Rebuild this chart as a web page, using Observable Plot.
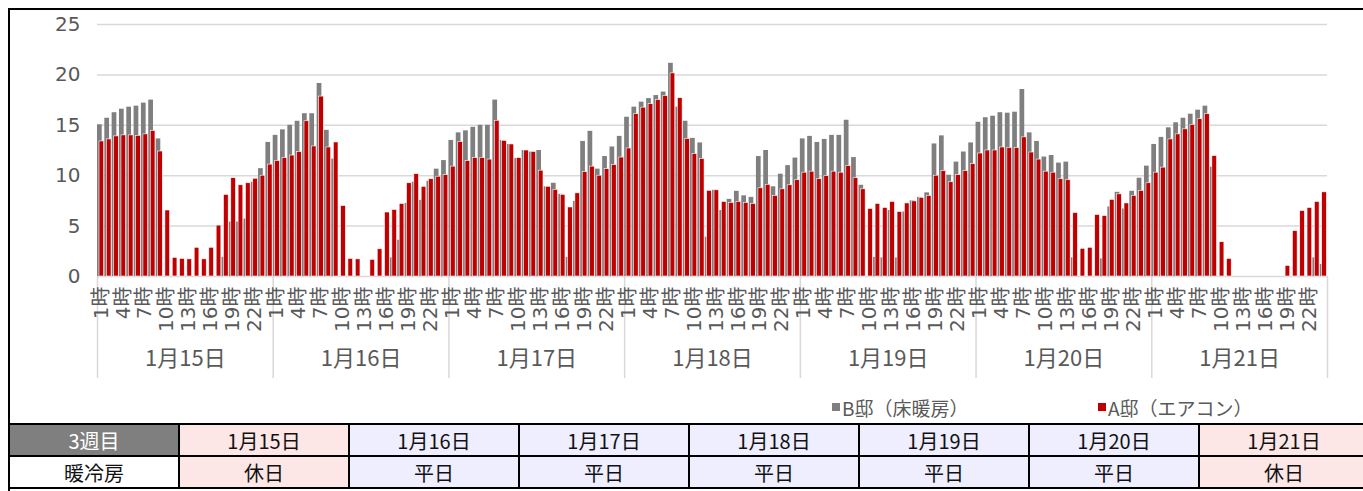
<!DOCTYPE html>
<html>
<head>
<meta charset="utf-8">
<script src="https://cdn.jsdelivr.net/npm/d3@7"></script>
<script src="https://cdn.jsdelivr.net/npm/@observablehq/plot@0.6"></script>
<style>
  html, body { margin: 0; padding: 0; background: #fff; overflow: hidden; }
  body { width: 1363px; height: 491px; position: relative; font-family: "Noto Sans CJK JP", sans-serif; }
  #frame { position: absolute; left: 8px; top: 8px; width: 1400px; height: 500px;
           border-left: 2px solid #000; border-top: 2px solid #000; box-sizing: border-box; }
  #chart { position: absolute; left: 0; top: 0; }
  #legend { position: absolute; top: 394px; left: 0; width: 1363px; height: 26px; font-size: 19px; color: #595959; }
  .li { position: absolute; top: 0; display: flex; align-items: center; height: 26px; white-space: nowrap; }
  .sw { display: inline-block; width: 8px; height: 8px; margin-right: 2px; }
  table { position: absolute; left: 8px; top: 423px; border-collapse: collapse; table-layout: fixed; width: 1362px; }
  td { border: 2px solid #000; height: 30px; padding: 0; text-align: center; font-size: 20px; color: #111; }
  td.head { background: #7f7f7f; color: #fff; }
  td.hol { background: #fde6e6; }
  td.wk { background: #eeeeff; }
  td.plain { background: #fff; }
</style>
</head>
<body>
<div id="frame"></div>
<div id="chart"></div>
<div id="legend"></div>
<script>
// ---- data ----
const days = ["1月15日", "1月16日", "1月17日", "1月18日", "1月19日", "1月20日", "1月21日"];
const dayTypes = ["休日", "平日", "平日", "平日", "平日", "平日", "休日"];
const hourLabels = ["1時", "4時", "7時", "10時", "13時", "16時", "19時", "22時"];
const seriesNames = ["B邸（床暖房）", "A邸（エアコン）"];
const seriesColors = ["#7f7f7f", "#c00000"];
const weekLabel = "3週目";
const rowLabel = "暖冷房";

// B邸（床暖房） hourly values, one line per day (1時..24時)
const bValues = [
  15.05, 15.7, 16.25, 16.6, 16.8, 16.9, 17.2, 17.5, 13.65, 0, 0, 0, 0, 0, 0, 0, 0, 1.9, 5.4, 5.4, 5.7, 9.35, 10.7, 13.3,
  14.0, 14.55, 15.0, 15.4, 16.15, 16.15, 19.15, 14.5, 11.65, 0, 0, 0, 0, 0, 0, 0, 1.85, 3.6, 7.25, 9.35, 7.55, 9.45, 10.65, 11.5,
  13.5, 14.25, 14.45, 14.8, 15.0, 15.0, 17.5, 13.5, 13.1, 11.7, 12.5, 12.35, 12.5, 8.9, 9.25, 8.15, 1.9, 7.45, 13.4, 14.4, 10.65, 11.9, 12.85, 13.9,
  15.8, 16.8, 17.3, 17.65, 17.95, 18.3, 21.15, 16.8, 15.4, 13.7, 13.25, 3.9, 8.55, 6.55, 7.65, 8.45, 8.0, 7.85, 11.9, 12.5, 8.9, 10.15, 11.0, 11.75,
  13.65, 13.9, 13.3, 13.6, 14.0, 14.0, 15.5, 11.8, 9.05, 0, 1.9, 1.85, 6.55, 1.85, 6.4, 7.5, 7.85, 8.3, 13.15, 13.95, 10.05, 11.35, 12.35, 13.25,
  15.3, 15.75, 15.9, 16.25, 16.2, 16.3, 18.55, 14.25, 13.4, 11.85, 12.0, 11.25, 11.35, 1.85, 0, 0, 0, 1.75, 6.9, 8.35, 6.7, 8.45, 9.75, 10.95,
  13.1, 13.8, 14.75, 15.25, 15.7, 16.1, 16.5, 16.9, 10.85, 0, 0, 0, 0, 0, 0, 0, 0, 0, 0, 0, 0, 0, 1.85, 1.2
];
// A邸（エアコン） hourly values
const aValues = [
  13.4, 13.6, 13.9, 14.0, 14.0, 13.95, 14.1, 14.45, 12.4, 6.55, 1.85, 1.75, 1.7, 2.85, 1.7, 2.85, 5.05, 8.1, 9.75, 9.05, 9.25, 9.7, 10.0, 11.1,
  11.45, 11.75, 12.0, 12.35, 15.4, 12.9, 17.85, 12.8, 13.3, 7.0, 1.75, 1.7, 0, 1.65, 2.7, 6.35, 6.6, 7.2, 9.25, 10.15, 8.9, 9.65, 9.9, 10.05,
  10.9, 13.35, 11.45, 11.75, 11.75, 11.6, 15.45, 13.45, 13.1, 11.75, 12.5, 12.35, 10.5, 8.9, 8.6, 8.1, 6.85, 8.25, 10.35, 10.9, 10.0, 10.65, 11.05, 11.8,
  12.7, 16.1, 16.75, 17.1, 17.5, 17.9, 20.15, 17.7, 13.65, 12.15, 11.65, 8.5, 8.55, 7.4, 7.3, 7.4, 7.3, 7.2, 8.75, 9.1, 8.0, 8.65, 9.05, 9.55,
  10.3, 10.4, 9.65, 9.95, 10.4, 10.3, 10.95, 9.75, 8.65, 6.7, 7.2, 6.8, 7.4, 6.4, 7.25, 7.45, 7.8, 8.0, 10.0, 10.45, 9.35, 10.05, 10.45, 11.15,
  12.2, 12.5, 12.5, 12.8, 12.75, 12.75, 13.8, 12.3, 11.6, 10.4, 10.3, 9.65, 9.55, 6.3, 2.75, 2.85, 6.1, 6.0, 7.6, 8.15, 7.25, 8.0, 8.5, 9.25,
  10.3, 10.8, 13.6, 14.1, 14.6, 15.05, 15.6, 16.1, 11.95, 3.4, 1.75, 0, 0, 0, 0, 0, 0, 0, 1.05, 4.5, 6.5, 6.8, 7.4, 8.35
];
const yTicks = [0, 5, 10, 15, 20, 25];

// ---- build tables for the library ----
const H = 24;
const rows = bValues.map((b, i) => ({ i, b, a: aValues[i] }));
const hourTicks = [];
const hourTickText = new Map();
days.forEach((d, di) => hourLabels.forEach(lbl => {
  const h = parseInt(lbl) - 1;
  const pos = di * H + h + 0.5;
  hourTicks.push(pos);
  hourTickText.set(pos, lbl);
}));
const dayBounds = d3.range(days.length + 1).map(k => k * H);
const dayMids = days.map((d, k) => k * H + H / 2);
const dayText = new Map(dayMids.map((m, k) => [m, days[k]]));

const grey = "#595959";
const numFont = '"DejaVu Sans", "Noto Sans CJK JP", sans-serif';

const chart = Plot.plot({
  width: 1363,
  height: 390,
  marginLeft: 97,
  marginRight: 36,
  marginTop: 24,
  marginBottom: 114,
  style: { background: "transparent", fontFamily: numFont },
  x: { type: "linear", domain: [0, days.length * H], axis: null },
  y: { domain: [0, 25], axis: null },
  marks: [
    Plot.gridY(yTicks, { stroke: "#d9d9d9", strokeOpacity: 1, strokeWidth: 1.5 }),
    Plot.axisY(yTicks, { tickSize: 0, tickPadding: 17, fontSize: 20, fill: grey, label: null }),
    Plot.rectY(rows.filter(d => d.b > 0), {
      x1: "i", x2: d => d.i + 1, y: "b", fill: seriesColors[0], insetLeft: 0, insetRight: 2.6
    }),
    Plot.rectY(rows.filter(d => d.a > 0), {
      x1: "i", x2: d => d.i + 1, y: "a", fill: seriesColors[1], stroke: "#ffffff", strokeWidth: 0.6,
      insetLeft: 2, insetRight: 0.6
    }),
    Plot.axisX(dayBounds, { tickSize: 102, stroke: "#d9d9d9", strokeWidth: 1.5, tickFormat: () => "", label: null }),
    Plot.axisX(hourTicks, {
      tickSize: 0, tickRotate: -90, tickPadding: 10, fontSize: 20, fill: grey,
      tickFormat: v => hourTickText.get(v), label: null
    }),
    Plot.axisX(dayMids, {
      tickSize: 0, tickPadding: 74, fontSize: 22, fill: grey,
      fontFamily: '"Noto Sans CJK JP", sans-serif',
      tickFormat: v => dayText.get(v), label: null
    })
  ]
});
document.getElementById("chart").appendChild(chart);

// ---- legend ----
const legend = document.getElementById("legend");
const legendX = [832, 1098];
seriesNames.forEach((name, k) => {
  const item = document.createElement("div");
  item.className = "li";
  item.style.left = legendX[k] + "px";
  const sw = document.createElement("span");
  sw.className = "sw";
  sw.style.background = seriesColors[k];
  item.appendChild(sw);
  item.appendChild(document.createTextNode(name));
  legend.appendChild(item);
});

// ---- table ----
const table = document.createElement("table");
const r1 = table.insertRow();
const r2 = table.insertRow();
const c0 = r1.insertCell(); c0.textContent = weekLabel; c0.className = "head";
const c1 = r2.insertCell(); c1.textContent = rowLabel; c1.className = "plain";
days.forEach((d, k) => {
  const cls = dayTypes[k] === "休日" ? "hol" : "wk";
  const a = r1.insertCell(); a.textContent = d; a.className = cls;
  const b = r2.insertCell(); b.textContent = dayTypes[k]; b.className = cls;
});
document.body.appendChild(table);
</script>
</body>
</html>
